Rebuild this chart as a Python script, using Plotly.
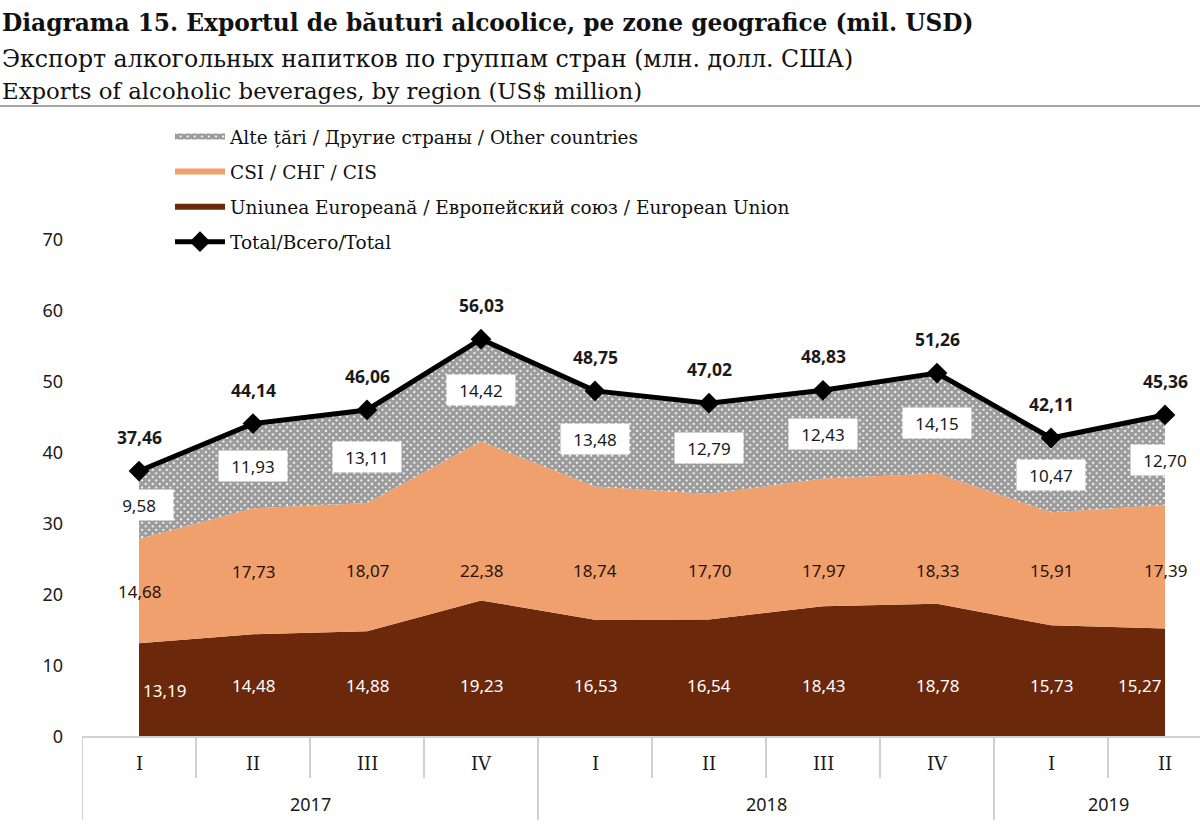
import plotly.graph_objects as go

quarters = ["I", "II", "III", "IV", "I", "II", "III", "IV", "I", "II"]
years = ["2017", "2018", "2019"]
year_spans = [(0, 3), (4, 7), (8, 9)]
eu = [13.19, 14.48, 14.88, 19.23, 16.53, 16.54, 18.43, 18.78, 15.73, 15.27]
cis = [14.68, 17.73, 18.07, 22.38, 18.74, 17.70, 17.97, 18.33, 15.91, 17.39]
other = [9.58, 11.93, 13.11, 14.42, 13.48, 12.79, 12.43, 14.15, 10.47, 12.70]
total = [37.46, 44.14, 46.06, 56.03, 48.75, 47.02, 48.83, 51.26, 42.11, 45.36]

W, H = 1200, 829
L, T, B = 82, 240, 92
PW, PH = W - L, H - T - B

def px(xp):
    return (xp - L) / PW

def py(yp):
    return (H - B - yp) / PH

def fmt(v):
    return f"{v:.2f}".replace(".", ",")

x = list(range(len(quarters)))
n = len(x)
EU_C = "#6B280B"
CIS_C = "#EFA06D"
SANS = "Noto Sans"
SERIF = "DejaVu Serif"
LBL = 17

fig = go.Figure()
fig.add_trace(go.Scatter(x=x, y=eu, stackgroup="s", mode="none", fillcolor=EU_C,
                         name="Uniunea Europeană / Европейский союз / European Union",
                         legendrank=3, legendgroup="c", hoverinfo="skip"))
fig.add_trace(go.Scatter(x=x, y=cis, stackgroup="s", mode="none", fillcolor=CIS_C,
                         name="CSI / СНГ / CIS", legendrank=2, legendgroup="b", hoverinfo="skip"))
fig.add_trace(go.Scatter(x=x, y=other, stackgroup="s", mode="none",
                         fillpattern=dict(shape="x", size=5, solidity=0.85,
                                          fgcolor="#383838", bgcolor="white"),
                         name="Alte țări / Другие страны / Other countries",
                         legendrank=1, legendgroup="a", hoverinfo="skip"))
fig.add_trace(go.Scatter(x=x, y=total, mode="lines+markers",
                         line=dict(color="black", width=5),
                         marker=dict(symbol="diamond", size=16, color="black"),
                         name="Total/Всего/Total", legendrank=4, legendgroup="d",
                         hoverinfo="skip"))

ann = []
# segment labels
for i in x:
    shift = 25 if i == 0 else (-26 if i == n - 1 else 0)
    eu_y = min(eu[i] / 2, 7.2)
    ann.append(dict(x=i, y=eu_y, xref="x", yref="y", text=fmt(eu[i]), showarrow=False,
                    xshift=shift, yanchor="middle",
                    font=dict(family=SANS, size=LBL, color="white")))
    cis_y = min(eu[i] + cis[i] / 2, 23.5)
    ann.append(dict(x=i, y=cis_y, xref="x", yref="y", text=fmt(cis[i]), showarrow=False,
                    yanchor="middle",
                    font=dict(family=SANS, size=LBL, color="#2a1208")))
    oth_y = eu[i] + cis[i] + other[i] / 2
    ann.append(dict(x=i, y=oth_y, xref="x", yref="y", text=fmt(other[i]), showarrow=False,
                    bgcolor="white", borderpad=0, width=68, height=30, yanchor="middle",
                    font=dict(family=SANS, size=LBL, color="#1a1a1a")))
    ann.append(dict(x=i, y=total[i], xref="x", yref="y", text="<b>" + fmt(total[i]) + "</b>",
                    showarrow=False, yshift=34, yanchor="middle",
                    font=dict(family=SANS, size=LBL + 0.5, color="#1a1a1a")))

# category table
shapes = []
shapes.append(dict(type="line", xref="paper", yref="paper", x0=0, x1=1, y0=0, y1=0,
                   line=dict(color="#d0d0d0", width=2)))
year_bounds = [-0.5] + [e + 0.5 for (s, e) in year_spans]
for k in range(n + 1):
    b = k - 0.5
    long = b in year_bounds
    shapes.append(dict(type="line", xref="x", yref="paper", x0=b, x1=b, y0=0,
                       y1=py(820) if long else py(778),
                       line=dict(color="#d0d0d0", width=2)))
for i, q in enumerate(quarters):
    ann.append(dict(x=i, y=py(763), xref="x", yref="paper", text=q, showarrow=False,
                    yanchor="middle",
                    font=dict(family=SERIF, size=18, color="#1a1a1a")))
for yr, (s, e) in zip(years, year_spans):
    ann.append(dict(x=(s + e) / 2, y=py(804), xref="x", yref="paper", text=yr, showarrow=False,
                    yanchor="middle",
                    font=dict(family=SANS, size=18, color="#1a1a1a")))

# titles
ann.append(dict(x=px(0), y=py(23), xref="paper", yref="paper", xanchor="left", yanchor="middle",
                text="<b>Diagrama 15. Exportul de băuturi alcoolice, pe zone geografice (mil. USD)</b>",
                showarrow=False, font=dict(family=SERIF, size=23.3, color="#111")))
ann.append(dict(x=px(0), y=py(59), xref="paper", yref="paper", xanchor="left", yanchor="middle",
                text="Экспорт алкогольных напитков по группам стран (млн. долл. США)",
                showarrow=False, font=dict(family=SERIF, size=23.6, color="#111")))
ann.append(dict(x=px(0), y=py(91), xref="paper", yref="paper", xanchor="left", yanchor="middle",
                text="Exports of alcoholic beverages, by region (US$ million)",
                showarrow=False, font=dict(family=SERIF, size=22.8, color="#111")))
shapes.append(dict(type="line", xref="paper", yref="paper", x0=px(0), x1=px(W),
                   y0=py(106), y1=py(106), line=dict(color="#888", width=1.5)))

fig.update_layout(
    width=W, height=H,
    margin=dict(l=L, r=0, t=T, b=B, autoexpand=False),
    paper_bgcolor="white", plot_bgcolor="white",
    showlegend=True,
    legend=dict(xref="container", yref="container", x=170 / W, y=1 - 118 / H,
                xanchor="left", yanchor="top", itemwidth=50, tracegroupgap=8,
                font=dict(family=SERIF, size=18.5, color="#111"), bgcolor="rgba(0,0,0,0)"),
    xaxis=dict(range=[-0.5, -0.5 + PW / 114.0], showticklabels=False, showgrid=False,
               zeroline=False, showline=False, ticks=""),
    yaxis=dict(range=[0, 70], dtick=10, showgrid=False, zeroline=False, showline=False,
               ticks="", ticklabelstandoff=18,
               tickfont=dict(family=SANS, size=18, color="#1a1a1a")),
    annotations=ann, shapes=shapes,
)

fig.write_html("out.html", config={"displayModeBar": False},
               post_script="document.body.style.margin='0';")
